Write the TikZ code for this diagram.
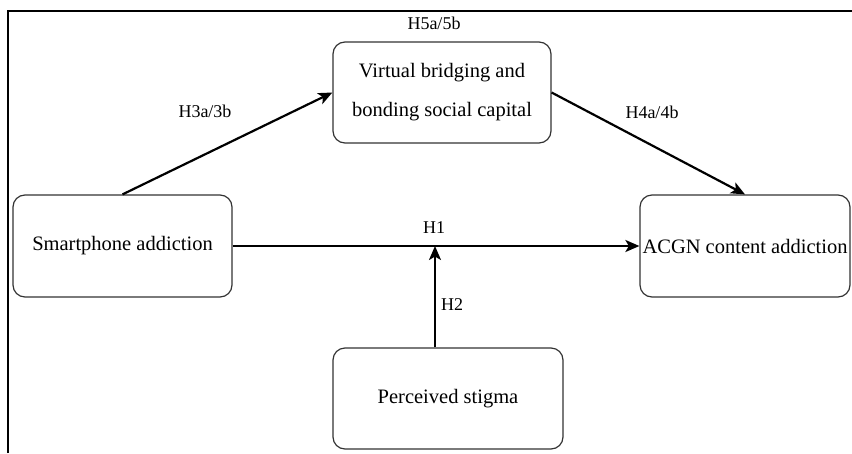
\documentclass[tikz,border=0pt]{standalone}
\usepackage{fontspec}
\setmainfont{Liberation Serif}
\usetikzlibrary{arrows.meta}
\begin{document}
\begin{tikzpicture}[x=1pt,y=-1pt,
  box/.style={draw=black!80, line width=1.2pt, rounded corners=12pt, inner sep=0pt,
    align=center, font=\fontsize{20.5}{39}\selectfont},
  conn/.style={line width=2.2pt, -{Stealth[length=14pt,width=12pt,inset=3.5pt]}},
  lbl/.style={anchor=base, inner sep=0pt, font=\fontsize{18}{20}\selectfont}]
\useasboundingbox (0,0) rectangle (852,453);
\draw[line width=1.8pt] (8.3,453) -- (8.3,11) -- (852,11);
\node[box, minimum width=219pt, minimum height=102pt] (sa) at (122.5,246) {Smartphone addiction};
\node[box, minimum width=218pt, minimum height=101pt] (vb) at (442,92.5) {Virtual bridging and\\bonding social capital};
\node[box, minimum width=210pt, minimum height=102pt] (acgn) at (745,246) {ACGN content addiction};
\node[box, minimum width=230pt, minimum height=101pt] (ps) at (448,398.5) {Perceived stigma};
\coordinate (h1m) at (435,246);
\draw[conn] (sa.north) -- (vb.west);
\draw[conn] (vb.east) -- (acgn.north);
\draw[conn] (sa.east) -- (acgn.west);
\draw[conn, line width=2pt] (ps.north -| h1m) -- (h1m);
\node[lbl] (l5) at (434,29) {H5a/5b};
\node[lbl] (l3) at (205,117) {H3a/3b};
\node[lbl] (l4) at (652,118) {H4a/4b};
\node[lbl] (l1) at (434,233) {H1};
\node[lbl] (l2) at (452,310) {H2};
\end{tikzpicture}
\end{document}
